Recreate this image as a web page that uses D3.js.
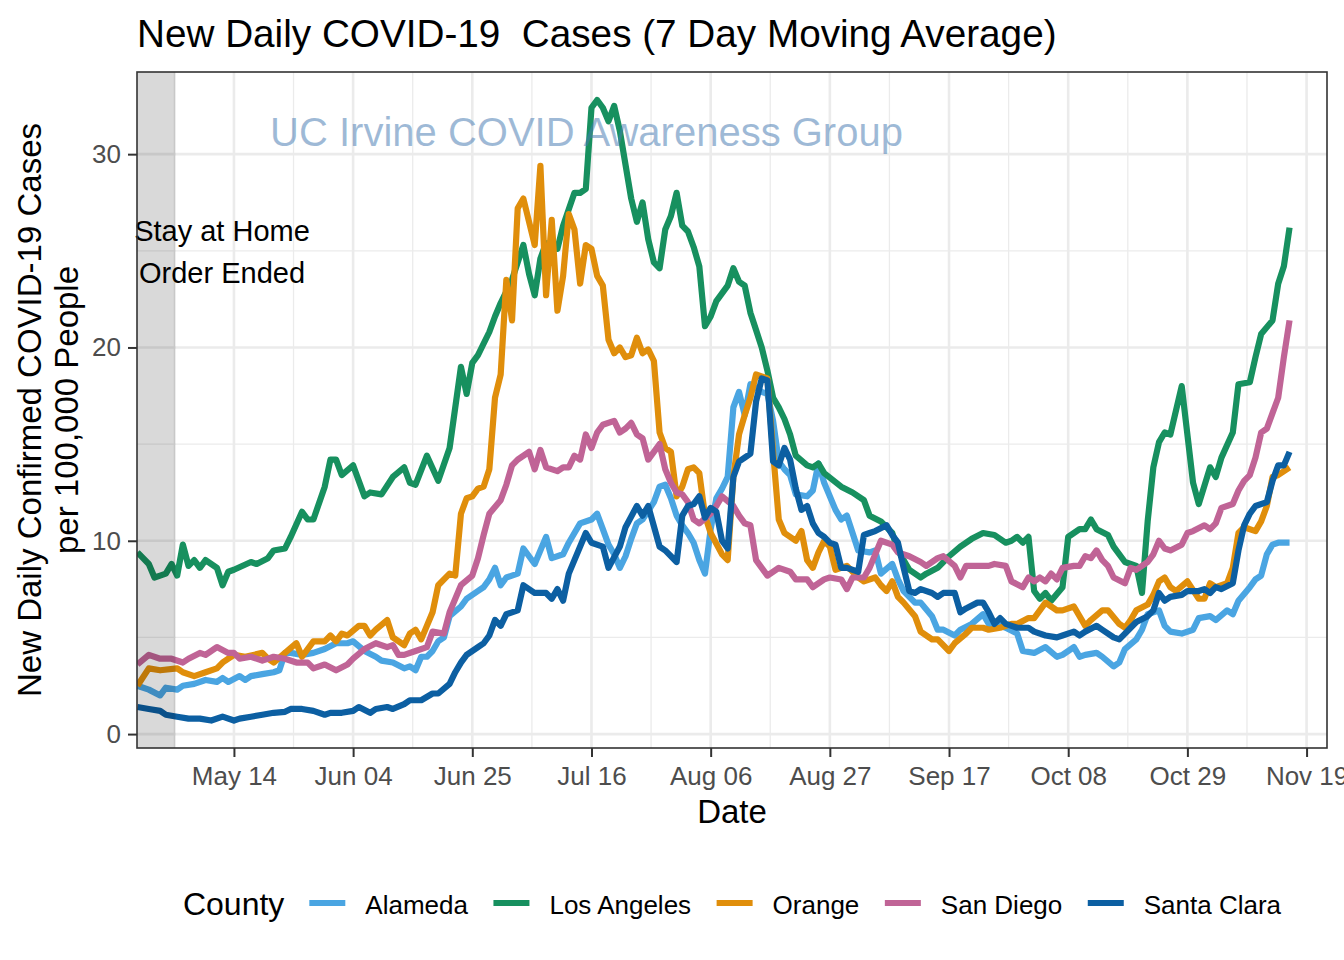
<!DOCTYPE html>
<html>
<head>
<meta charset="utf-8">
<script src="https://cdn.jsdelivr.net/npm/d3@7"></script>
<style>
  body { margin: 0; background: #fff; }
  text { font-family: "Liberation Sans", Arial, Helvetica, sans-serif; }
</style>
</head>
<body>
<svg id="chart" width="1344" height="960"></svg>
<script>
// ---------------- DATA ----------------
const startDate = "2020-04-27";           // day 0 of the series
const stayHomeEndDay = 6.7;               // end of the shaded "stay at home" band (days from start)
const counties = ["Alameda", "Los Angeles", "Orange", "San Diego", "Santa Clara"];
const countyColors = ["#4AA5E2", "#17905F", "#E08E0B", "#C06496", "#0C5FA2"];
const tickDates = ["2020-05-14","2020-06-04","2020-06-25","2020-07-16","2020-08-06",
                   "2020-08-27","2020-09-17","2020-10-08","2020-10-29","2020-11-19"];
const yTicks = [0, 10, 20, 30];

// [day offset from startDate, new daily cases per 100,000 (7-day avg)]
const alameda = [[0,2.5],[2,2.3],[4,2.0],[5,2.4],[7,2.3],[8,2.5],[10,2.6],[12,2.8],[14,2.7],[15,2.9],[16,2.7],[18,3.0],[19,2.8],[20,3.0],[22,3.1],[24,3.2],[25,3.3],[26,4.2],[27,4.2],[29,4.1],[31,4.2],[33,4.4],[35,4.7],[37,4.7],[38,4.8],[40,4.3],[42,4.0],[43,3.8],[45,3.7],[47,3.4],[48,3.5],[49,3.3],[50,4.0],[51,4.0],[52,4.3],[53,4.8],[54,5.0],[55,6.1],[57,6.6],[58,7.0],[60,7.4],[61,7.6],[62,8.0],[63,8.6],[64,7.7],[65,8.1],[67,8.3],[68,9.6],[69,9.2],[70,8.8],[72,10.2],[73,9.1],[75,9.3],[76,9.9],[77,10.4],[78,10.9],[80,11.1],[81,11.4],[82,10.6],[83,9.8],[84,9.3],[85,8.6],[86,9.2],[87,10.1],[88,10.9],[89,11.1],[91,12.0],[92,12.8],[93,12.9],[94,12.2],[95,11.3],[96,10.8],[97,10.4],[98,9.9],[99,9.0],[100,8.3],[101,10.6],[102,12.2],[103,12.7],[104,13.3],[105,16.9],[106,17.7],[107,16.5],[108,18.1],[110,17.7],[111,17.6],[112,16.2],[113,14.1],[114,13.7],[115,13.4],[116,12.4],[118,12.3],[119,12.6],[120,14.0],[121,13.0],[123,11.6],[124,11.1],[125,11.3],[126,10.4],[127,9.5],[129,9.4],[130,9.5],[131,8.3],[133,8.8],[134,8.0],[135,7.4],[137,6.8],[138,6.8],[140,6.1],[141,5.4],[142,5.4],[144,5.1],[145,5.4],[147,5.7],[149,6.2],[150,5.7],[152,5.6],[153,5.5],[155,5.2],[156,4.3],[158,4.2],[160,4.5],[162,4.0],[163,4.1],[165,4.5],[166,4.0],[167,4.1],[169,4.2],[170,4.0],[172,3.5],[173,3.7],[174,4.4],[176,4.9],[177,5.4],[178,6.2],[180,6.4],[181,5.6],[182,5.3],[184,5.2],[186,5.4],[187,6.0],[189,6.1],[190,5.9],[192,6.4],[193,6.2],[194,6.9],[196,7.6],[197,8.0],[198,8.2],[199,9.3],[200,9.8],[201,9.9],[203,9.9]];

const losAngeles = [[0,9.4],[2,8.8],[3,8.1],[4,8.2],[5,8.3],[6,8.8],[7,8.2],[8,9.8],[9,8.7],[10,9.0],[11,8.6],[12,9.0],[14,8.6],[15,7.7],[16,8.4],[17,8.5],[20,8.9],[21,8.8],[23,9.1],[24,9.5],[26,9.6],[27,10.2],[29,11.5],[30,11.1],[31,11.1],[33,12.8],[34,14.2],[35,14.2],[36,13.4],[38,13.9],[40,12.3],[41,12.5],[43,12.4],[45,13.3],[47,13.8],[48,13.0],[49,12.9],[51,14.4],[53,13.1],[55,14.8],[57,19.0],[58,17.6],[59,19.2],[60,19.6],[62,20.8],[63,21.6],[64,22.3],[66,23.5],[68,25.3],[69,23.8],[70,22.7],[71,24.6],[72,25.4],[74,25.1],[75,26.3],[77,28.0],[78,28.0],[79,28.2],[80,32.4],[81,32.8],[82,32.4],[83,31.7],[84,32.5],[85,31.2],[87,27.7],[88,26.5],[89,27.5],[90,25.6],[91,24.4],[92,24.1],[93,26.1],[94,26.8],[95,28.0],[96,26.3],[97,26.0],[98,25.2],[99,24.2],[100,21.1],[101,21.6],[102,22.4],[103,22.8],[104,23.2],[105,24.1],[106,23.4],[107,23.2],[108,21.8],[109,20.9],[110,20.0],[111,18.8],[112,17.4],[113,16.9],[114,16.3],[115,15.5],[116,14.4],[118,13.9],[119,13.8],[120,14.0],[121,13.5],[124,12.8],[126,12.5],[128,12.1],[129,11.3],[131,11.0],[133,10.4],[134,9.5],[136,8.5],[138,8.1],[139,8.3],[141,8.6],[143,9.2],[145,9.7],[147,10.1],[149,10.4],[151,10.3],[153,9.9],[154,10.0],[155,10.2],[156,9.9],[157,10.2],[158,7.4],[159,7.0],[160,7.3],[161,6.9],[163,7.6],[164,10.2],[166,10.6],[167,10.6],[168,11.1],[169,10.6],[171,10.3],[172,9.7],[174,8.9],[175,8.8],[176,8.7],[177,7.3],[178,11.0],[179,13.8],[180,15.1],[181,15.6],[182,15.5],[184,18.0],[186,13.0],[187,11.9],[189,13.8],[190,13.3],[191,14.3],[193,15.6],[194,18.1],[196,18.2],[197,19.5],[198,20.7],[200,21.4],[201,23.3],[202,24.2],[203,26.2]];

const orange = [[0,2.5],[2,3.4],[4,3.3],[7,3.4],[8,3.2],[10,3.0],[12,3.2],[14,3.4],[15,3.7],[17,4.1],[19,4.0],[22,4.2],[23,3.9],[24,3.7],[26,4.2],[28,4.7],[29,4.0],[31,4.8],[33,4.8],[34,5.1],[35,4.8],[36,5.2],[37,5.1],[39,5.6],[40,5.6],[41,5.1],[42,5.4],[44,5.9],[45,5.0],[47,4.6],[48,5.2],[49,5.4],[50,4.9],[52,6.3],[53,7.7],[55,8.3],[56,8.2],[57,11.4],[58,12.2],[59,12.3],[60,12.7],[61,12.8],[62,13.7],[63,17.4],[64,18.6],[65,23.5],[66,21.4],[67,27.2],[68,27.7],[70,25.3],[71,29.4],[72,22.7],[73,26.6],[74,21.9],[75,23.7],[76,26.9],[77,26.1],[78,23.3],[79,25.3],[80,25.1],[81,23.7],[82,23.2],[83,20.4],[84,19.7],[85,20.0],[86,19.5],[87,19.6],[88,20.5],[89,19.7],[90,19.9],[91,19.3],[92,15.6],[93,14.8],[94,14.6],[95,12.3],[96,12.8],[97,13.7],[98,13.8],[99,13.5],[100,11.3],[101,10.4],[103,9.3],[104,9.0],[105,13.3],[106,15.5],[107,16.5],[108,17.4],[109,18.6],[111,18.4],[112,14.6],[113,11.1],[114,10.4],[116,10.0],[117,10.5],[118,9.0],[119,8.6],[120,9.4],[121,10.0],[122,9.7],[123,8.5],[125,8.7],[127,8.1],[128,7.9],[130,8.1],[131,7.7],[132,7.4],[133,7.9],[134,7.1],[135,6.8],[137,6.1],[138,5.3],[140,4.9],[141,4.9],[143,4.3],[144,4.7],[146,5.2],[147,5.5],[149,5.5],[150,5.4],[152,5.5],[154,5.7],[155,5.7],[157,6.0],[158,6.0],[160,6.8],[162,6.4],[163,6.4],[165,6.6],[167,5.6],[168,5.9],[170,6.4],[171,6.4],[173,5.7],[174,5.5],[175,5.9],[176,6.4],[178,6.7],[179,7.2],[180,7.9],[181,8.1],[182,7.6],[183,7.4],[185,7.9],[187,7.0],[188,7.0],[189,7.8],[190,7.6],[192,7.8],[193,8.6],[194,10.4],[195,10.7],[197,10.5],[198,11.0],[199,11.8],[200,13.3],[201,13.4],[203,13.8]];

const sanDiego = [[0,3.6],[2,4.1],[4,3.9],[6,3.9],[8,3.7],[9,3.9],[11,4.2],[12,4.1],[14,4.5],[16,4.2],[17,4.2],[18,3.9],[20,4.0],[22,3.8],[24,4.0],[26,3.9],[28,3.7],[30,3.7],[31,3.4],[33,3.6],[35,3.3],[37,3.6],[38,3.9],[40,4.4],[42,4.7],[44,4.5],[45,4.6],[46,4.1],[47,4.1],[49,4.3],[51,4.5],[52,5.3],[54,5.2],[55,6.3],[56,7.0],[57,7.7],[59,8.2],[60,9.1],[61,10.3],[62,11.4],[64,12.1],[65,12.9],[66,13.9],[67,14.2],[69,14.6],[70,13.7],[71,14.7],[72,13.8],[74,13.6],[75,13.8],[76,13.8],[77,14.4],[78,14.2],[79,15.5],[80,14.8],[81,15.6],[82,16.0],[84,16.2],[85,15.6],[86,15.8],[87,16.1],[88,15.5],[89,15.3],[90,14.2],[91,14.6],[92,15.0],[93,13.7],[94,13.0],[95,12.5],[96,12.4],[97,12.0],[98,11.1],[99,10.9],[101,11.4],[102,11.8],[103,12.3],[105,11.8],[106,11.3],[107,10.9],[108,10.8],[109,9.0],[111,8.2],[113,8.6],[115,8.4],[116,8.0],[118,8.0],[119,7.6],[121,8.0],[122,8.1],[124,8.0],[125,7.5],[126,8.1],[128,8.1],[129,8.6],[131,10.0],[133,9.8],[134,9.4],[136,9.2],[138,8.9],[139,8.7],[141,9.1],[142,9.2],[144,8.7],[145,8.1],[146,8.7],[148,8.7],[150,8.7],[151,8.8],[153,8.7],[154,7.9],[156,7.6],[157,8.1],[158,7.9],[159,8.1],[160,7.9],[161,8.3],[162,8.0],[163,8.6],[165,8.7],[166,8.7],[167,9.2],[168,9.1],[169,9.5],[170,9.0],[171,8.7],[172,8.1],[174,7.8],[175,8.6],[176,8.5],[178,8.9],[179,9.3],[180,10.0],[181,9.6],[182,9.5],[184,9.8],[185,10.4],[186,10.5],[188,10.8],[189,10.6],[190,10.9],[191,11.7],[193,11.9],[194,12.6],[195,13.1],[196,13.4],[197,14.3],[198,15.6],[199,15.8],[200,16.6],[201,17.4],[202,19.5],[203,21.4]];

const santaClara = [[0,1.4],[2,1.3],[4,1.2],[5,1.0],[7,0.9],[9,0.8],[11,0.8],[13,0.7],[15,0.9],[17,0.7],[18,0.8],[20,0.9],[22,1.0],[24,1.1],[26,1.15],[27,1.3],[29,1.3],[31,1.2],[33,1.0],[34,1.1],[36,1.1],[38,1.2],[39,1.4],[41,1.1],[42,1.3],[44,1.4],[45,1.3],[47,1.55],[48,1.75],[50,1.75],[52,2.1],[53,2.1],[55,2.6],[56,3.2],[57,3.7],[58,4.1],[60,4.5],[61,4.7],[62,5.1],[63,5.9],[64,5.6],[65,6.2],[67,6.4],[68,7.7],[70,7.3],[72,7.3],[73,7.0],[74,7.5],[75,6.9],[76,8.3],[79,10.4],[80,9.9],[82,9.7],[83,8.6],[85,9.7],[86,10.7],[88,11.8],[89,11.3],[90,11.8],[92,9.7],[93,9.5],[95,8.9],[96,11.3],[97,11.8],[98,11.9],[99,12.3],[100,11.2],[101,11.7],[102,11.5],[103,10.0],[104,9.6],[105,13.3],[106,14.1],[107,14.3],[108,14.5],[109,17.2],[110,18.4],[111,18.3],[112,14.1],[113,13.9],[114,14.8],[115,14.2],[116,12.7],[117,11.6],[118,11.8],[119,10.9],[120,10.4],[121,10.2],[122,9.9],[123,9.8],[124,8.6],[125,8.6],[127,8.4],[128,10.3],[129,10.4],[130,10.5],[132,10.8],[133,10.3],[134,9.9],[135,8.6],[136,7.4],[137,7.3],[138,7.5],[140,7.3],[141,7.1],[142,7.3],[144,7.3],[145,6.3],[146,6.5],[148,6.8],[149,6.8],[150,6.3],[151,5.7],[152,6.0],[153,5.7],[155,5.5],[157,5.5],[158,5.3],[160,5.1],[162,5.0],[163,5.1],[165,5.3],[166,5.1],[167,5.3],[169,5.6],[170,5.4],[172,5.0],[173,4.9],[174,5.2],[175,5.5],[176,5.8],[178,6.1],[179,6.4],[180,7.3],[181,6.9],[182,7.1],[184,7.2],[185,7.4],[187,7.4],[188,7.5],[189,7.3],[190,7.6],[191,7.5],[193,7.8],[194,9.5],[195,10.8],[196,11.4],[197,11.8],[199,12.0],[200,13.1],[201,13.9],[202,13.9],[203,14.6]];

const seriesData = [alameda, losAngeles, orange, sanDiego, santaClara];

// ---------------- LAYOUT ----------------
const FONT = '"Liberation Sans", Arial, Helvetica, sans-serif';
const panel = { left: 137, right: 1327, top: 72, bottom: 748 };
const svg = d3.select("#chart");
svg.append("rect").attr("width", 1344).attr("height", 960).attr("fill", "#fff");

const start = d3.utcParse("%Y-%m-%d")(startDate);
const dayToDate = d => new Date(start.getTime() + d * 864e5);
const tickDateObjs = tickDates.map(d3.utcParse("%Y-%m-%d"));

const x = d3.scaleUtc().domain([dayToDate(-0.08), dayToDate(209.6)]).range([panel.left, panel.right]);
const y = d3.scaleLinear().domain([-0.72, 34.25]).range([panel.bottom, panel.top]);

// grid
const grid = svg.append("g");
const [xd0, xd1] = x.domain();
const minorX = tickDateObjs.map(t => new Date(t.getTime() - 10.5 * 864e5))
  .concat([new Date(tickDateObjs[tickDateObjs.length - 1].getTime() + 10.5 * 864e5)])
  .filter(t => t >= xd0 && t <= xd1);
const minorY = yTicks.map(v => v + 5).concat([yTicks[0] - 5])
  .filter(v => v >= y.domain()[0] && v <= y.domain()[1]);

grid.selectAll(".mnx").data(minorX).join("line")
  .attr("x1", d => x(d)).attr("x2", d => x(d)).attr("y1", panel.top).attr("y2", panel.bottom)
  .attr("stroke", "#EBEBEB").attr("stroke-width", 1.3);
grid.selectAll(".mny").data(minorY).join("line")
  .attr("y1", d => y(d)).attr("y2", d => y(d)).attr("x1", panel.left).attr("x2", panel.right)
  .attr("stroke", "#EBEBEB").attr("stroke-width", 1.3);
grid.selectAll(".mjx").data(tickDateObjs).join("line")
  .attr("x1", d => x(d)).attr("x2", d => x(d)).attr("y1", panel.top).attr("y2", panel.bottom)
  .attr("stroke", "#EBEBEB").attr("stroke-width", 2.6);
grid.selectAll(".mjy").data(yTicks).join("line")
  .attr("y1", d => y(d)).attr("y2", d => y(d)).attr("x1", panel.left).attr("x2", panel.right)
  .attr("stroke", "#EBEBEB").attr("stroke-width", 2.6);

// clip
svg.append("defs").append("clipPath").attr("id", "clip")
  .append("rect").attr("x", panel.left).attr("y", panel.top)
  .attr("width", panel.right - panel.left).attr("height", panel.bottom - panel.top);

const line = d3.line().x(p => x(dayToDate(p[0]))).y(p => y(p[1]));
const lines = svg.append("g").attr("clip-path", "url(#clip)");
seriesData.forEach((s, i) => {
  lines.append("path").datum(s).attr("d", line)
    .attr("fill", "none").attr("stroke", countyColors[i]).attr("stroke-width", 6.2)
    .attr("stroke-linejoin", "round").attr("stroke-linecap", "butt");
});

// shaded band
svg.append("rect")
  .attr("x", panel.left).attr("y", panel.top)
  .attr("width", x(dayToDate(stayHomeEndDay)) - panel.left)
  .attr("height", panel.bottom - panel.top)
  .attr("fill", "#000").attr("fill-opacity", 0.15);

// watermark
svg.append("text").attr("x", 586.5).attr("y", 146).attr("text-anchor", "middle")
  .attr("font-family", FONT).attr("font-size", 40)
  .attr("fill", "#4a7db3").attr("fill-opacity", 0.53)
  .text("UC Irvine COVID Awareness Group");

// annotation
const ann = svg.append("g").attr("font-family", FONT).attr("font-size", 29).attr("fill", "#000").attr("text-anchor", "middle");
ann.append("text").attr("x", 222).attr("y", 241).text("Stay at Home");
ann.append("text").attr("x", 222).attr("y", 283).text("Order Ended");

// panel border
svg.append("rect").attr("x", panel.left).attr("y", panel.top)
  .attr("width", panel.right - panel.left).attr("height", panel.bottom - panel.top)
  .attr("fill", "none").attr("stroke", "#333").attr("stroke-width", 1.6);

// axes
const gx = svg.append("g").attr("transform", `translate(0,${panel.bottom})`)
  .call(d3.axisBottom(x).tickValues(tickDateObjs).tickFormat(d3.utcFormat("%b %d")).tickSize(9).tickPadding(9.5));
gx.select(".domain").remove();
gx.attr("font-family", FONT).attr("font-size", 26);
gx.selectAll(".tick line").attr("stroke", "#333").attr("stroke-width", 2);
gx.selectAll(".tick text").attr("fill", "#4D4D4D");

const gy = svg.append("g").attr("transform", `translate(${panel.left},0)`)
  .call(d3.axisLeft(y).tickValues(yTicks).tickSize(9).tickPadding(7));
gy.select(".domain").remove();
gy.attr("font-family", FONT).attr("font-size", 26);
gy.selectAll(".tick line").attr("stroke", "#333").attr("stroke-width", 2);
gy.selectAll(".tick text").attr("fill", "#4D4D4D");

// titles
svg.append("text").attr("x", 137).attr("y", 46.5)
  .attr("font-family", FONT).attr("font-size", 38.7).attr("fill", "#000")
  .attr("xml:space", "preserve").style("white-space", "pre")
  .text("New Daily COVID-19  Cases (7 Day Moving Average)");

svg.append("text").attr("x", (panel.left + panel.right) / 2).attr("y", 823)
  .attr("text-anchor", "middle").attr("font-family", FONT).attr("font-size", 33).attr("fill", "#000")
  .text("Date");

const yt = svg.append("g").attr("font-family", FONT).attr("font-size", 33).attr("fill", "#000").attr("text-anchor", "middle");
const yc = (panel.top + panel.bottom) / 2;
yt.append("text").attr("transform", `translate(41,${yc}) rotate(-90)`).text("New Daily Confirmed COVID-19 Cases");
yt.append("text").attr("transform", `translate(78,${yc}) rotate(-90)`).text("per 100,000 People");

// legend
const lg = svg.append("g").attr("font-family", FONT);
const legTitle = lg.append("text").attr("y", 915).attr("font-size", 32).attr("fill", "#000").text("County");
const titleW = legTitle.node().getComputedTextLength();
const keyW = 36, gapTitle = 25, gapKeyLabel = 20, gapItem = 25.5;
let cx = titleW + gapTitle;
counties.forEach((c, i) => {
  const g = lg.append("g");
  const t = g.append("text").attr("y", 914).attr("font-size", 26).attr("fill", "#000").text(c);
  const w = t.node().getComputedTextLength();
  const keyX = cx;
  g.append("line").attr("x1", keyX).attr("x2", keyX + keyW).attr("y1", 903).attr("y2", 903)
    .attr("stroke", countyColors[i]).attr("stroke-width", 6.2);
  t.attr("x", keyX + keyW + gapKeyLabel);
  cx = keyX + keyW + gapKeyLabel + w + gapItem;
});
const totalW = cx - gapItem;
const legLeft = (panel.left + panel.right) / 2 - totalW / 2;
lg.attr("transform", `translate(${legLeft},0)`);
</script>
</body>
</html>
